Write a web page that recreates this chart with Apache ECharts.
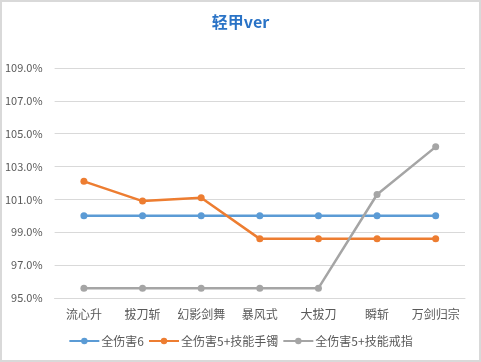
<!DOCTYPE html>
<html><head><meta charset="utf-8">
<script src="https://cdn.jsdelivr.net/npm/echarts@6/dist/echarts.min.js"></script>
<style>
html,body{margin:0;padding:0;background:#fff;}
#c{width:481px;height:362px;box-sizing:border-box;border:2px solid #d9d9d9;}
</style></head>
<body><div id="c"></div>
<script>
var categories = ['流心升','拔刀斩','幻影剑舞','暴风式','大拔刀','瞬斩','万剑归宗'];
var seriesNames = ['全伤害6','全伤害5+技能手镯','全伤害5+技能戒指'];
var s1 = [100.0,100.0,100.0,100.0,100.0,100.0,100.0];
var s2 = [102.1,100.9,101.1,98.6,98.6,98.6,98.6];
var s3 = [95.6,95.6,95.6,95.6,95.6,101.3,104.2];
var colors = ['#5b9bd5','#ed7d31','#a5a5a5'];
var chart = echarts.init(document.getElementById('c'));
var font = '"Noto Sans CJK SC", "Microsoft YaHei", sans-serif';
function mk(name, data, color){
  return {name:name,type:'line',data:data,symbol:'circle',symbolSize:7,
    lineStyle:{width:2.5,color:color},itemStyle:{color:color},emphasis:{disabled:true}};
}
chart.setOption({
  animation:false,
  title:{text:'轻甲ver',left:'center',top:7,textStyle:{color:'#2a73c6',fontSize:16,fontWeight:'bold',fontFamily:font}},
  grid:{left:52,right:14,top:66,bottom:62},
  legend:{bottom:8,left:'center',itemWidth:30,itemHeight:8,itemGap:4,
    textStyle:{fontSize:12,color:'#595959',fontFamily:font,padding:[0,0,0,-3]},
    data:seriesNames},
  xAxis:{type:'category',data:categories,boundaryGap:true,
    axisLine:{lineStyle:{color:'#d9d9d9'}},axisTick:{show:false},
    axisLabel:{color:'#595959',fontSize:12,fontFamily:font,margin:10,interval:0}},
  yAxis:{type:'value',min:95,max:109,interval:2,
    axisLine:{show:false},axisTick:{show:false},
    splitLine:{lineStyle:{color:'#d9d9d9'}},
    axisLabel:{color:'#595959',fontSize:11,fontFamily:font,margin:12,formatter:function(v){return v.toFixed(1)+'%';}}},
  series:[mk(seriesNames[0],s1,colors[0]),mk(seriesNames[1],s2,colors[1]),mk(seriesNames[2],s3,colors[2])]
});
</script></body></html>
